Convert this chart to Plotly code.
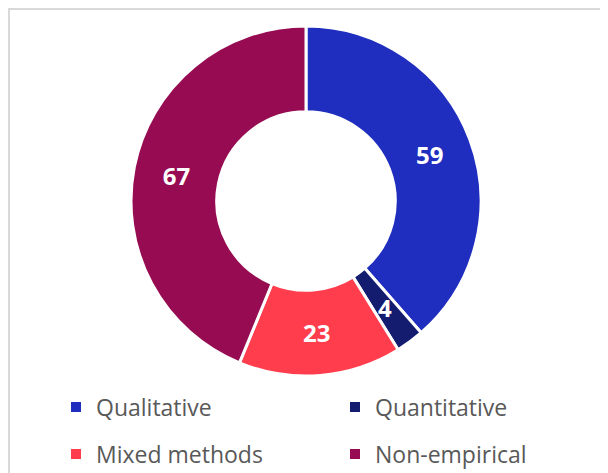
import math
import plotly.graph_objects as go

categories = ["Qualitative", "Quantitative", "Mixed methods", "Non-empirical"]
values = [59, 4, 23, 67]
colors = ["#1F2EBF", "#141C70", "#FF3D4D", "#960B51"]

# page body has an 8px margin; the figure fills the rest of the 608x473 window
W, H = 600, 465
cx, cy, r = 298, 193, 175
hole = 0.51

# slices too thin for plotly's inside text get their value as an annotation at mid-ring
small = [v / sum(values) < 0.05 for v in values]

fig = go.Figure()
fig.add_trace(go.Pie(
    labels=categories,
    values=values,
    hole=hole,
    sort=False,
    direction="clockwise",
    rotation=0,
    marker=dict(colors=colors, line=dict(color="white", width=3)),
    textinfo="value",
    textposition=["none" if s else "inside" for s in small],
    insidetextorientation="horizontal",
    textfont=dict(family="Open Sans", size=24, color="white", weight="bold"),
    domain=dict(x=[(cx - r) / W, (cx + r) / W], y=[1 - (cy + r) / H, 1 - (cy - r) / H]),
    hoverinfo="label+value",
    showlegend=False,
))

annotations = []
total = sum(values)
cum = 0
for v, s in zip(values, small):
    if s:
        ang = 2 * math.pi * (cum + v / 2) / total
        rm = r * (1 + hole) / 2
        px = cx + rm * math.sin(ang)
        py = cy - rm * math.cos(ang)
        annotations.append(dict(
            x=px / W, y=1 - py / H, xref="paper", yref="paper",
            text=str(v), showarrow=False, xanchor="center", yanchor="middle",
            font=dict(family="Open Sans", size=24, color="white", weight="bold"),
        ))
    cum += v

# legend entries (one legend per entry, laid out in a 2x2 grid)
legend_names = ["legend", "legend2", "legend3", "legend4"]
col_x = [48, 327]
row_y = [399, 446]
legend_layout = {}
for i, (cat, col) in enumerate(zip(categories, colors)):
    fig.add_trace(go.Scatter(
        x=[None], y=[None], mode="markers", name=cat,
        marker=dict(symbol="square", size=10, color=col),
        legend=legend_names[i], hoverinfo="skip",
    ))
    legend_layout[legend_names[i]] = dict(
        x=col_x[i % 2] / W, xanchor="left",
        y=1 - row_y[i // 2] / H, yanchor="middle",
        bgcolor="rgba(0,0,0,0)",
        font=dict(family="Open Sans", size=23, color="#595959"),
    )

fig.update_layout(
    width=W, height=H,
    margin=dict(l=0, r=0, t=0, b=0, autoexpand=False),
    paper_bgcolor="white",
    plot_bgcolor="white",
    uniformtext=dict(mode="show", minsize=24),
    showlegend=True,
    xaxis=dict(visible=False),
    yaxis=dict(visible=False),
    annotations=annotations,
    shapes=[dict(type="rect", xref="paper", yref="paper",
                 x0=1 / W, x1=594 / W, y0=-0.05, y1=1 - 1 / H,
                 line=dict(color="#D9D9D9", width=2), fillcolor="rgba(0,0,0,0)")],
    **legend_layout,
)

fig.write_html("out.html")
